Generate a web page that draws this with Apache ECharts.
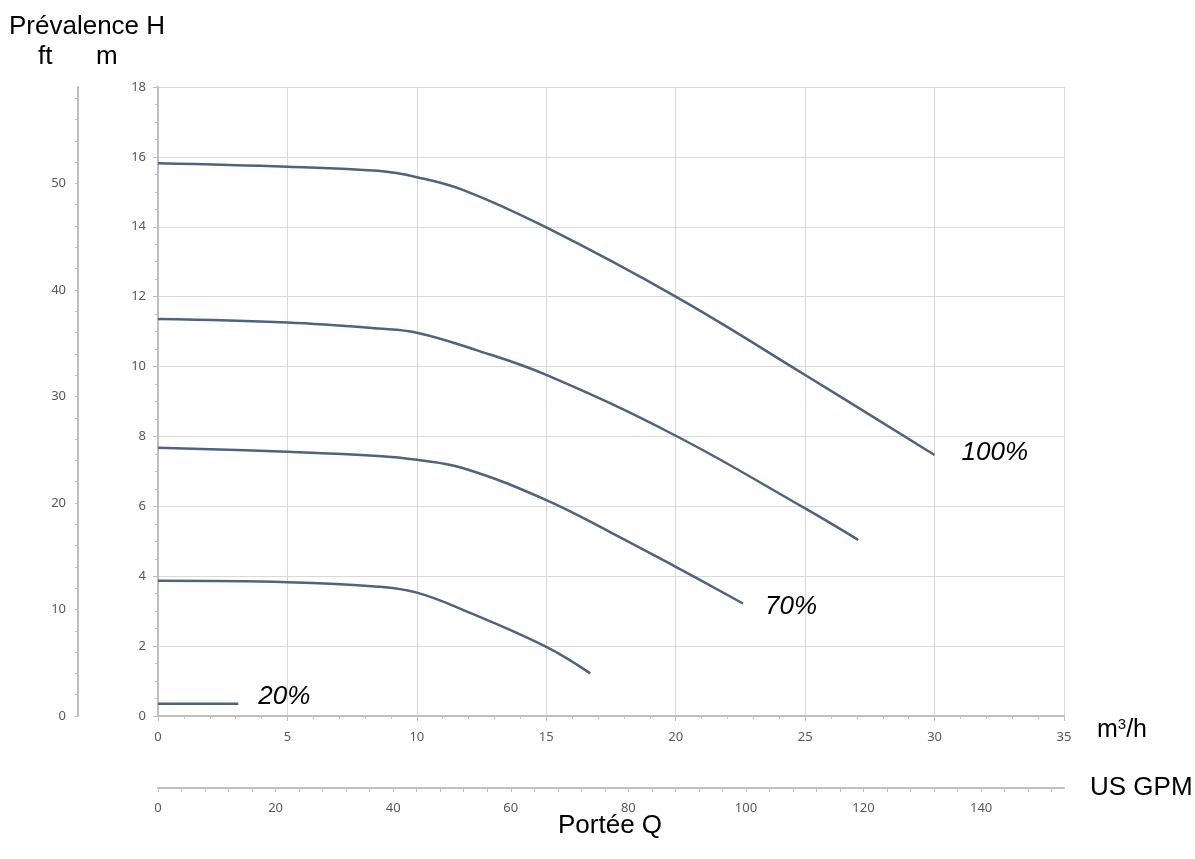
<!DOCTYPE html>
<html>
<head>
<meta charset="utf-8">
<script src="https://cdn.jsdelivr.net/npm/echarts@6/dist/echarts.min.js"></script>
<style>html,body{margin:0;padding:0;background:#fff}#c{width:1195px;height:859px}</style>
</head>
<body>
<div id="c"></div>
<script>
// Data (Q in m3/h, H in m)
const q100 = [0, 5, 8.5, 10, 11.8, 15, 20, 25, 30];
const h100 = [15.82, 15.72, 15.60, 15.42, 15.05, 13.98, 12.0, 9.76, 7.47];
const qB = [0, 5, 8.5, 10, 12.3, 15, 20, 25, 27.05];
const hB = [11.36, 11.26, 11.09, 10.97, 10.47, 9.76, 8.02, 5.94, 5.04];
const q70 = [0, 5, 8.5, 10, 11.8, 15, 17.5, 20, 22.6];
const h70 = [7.68, 7.56, 7.44, 7.33, 7.09, 6.18, 5.25, 4.27, 3.22];
const qD = [0, 5, 8.5, 10, 11.8, 15, 16.7];
const hD = [3.87, 3.83, 3.70, 3.53, 3.03, 1.98, 1.22];
const q20 = [0, 3.1];
const h20 = [0.35, 0.35];
const seriesNames = ['100%', '', '70%', '', '20%'];

const M_MAX = 18, Q_MAX = 35;
const FT_PER_M = 1 / 0.3048;
const GPM_PER_M3H = 1 / 0.2271247;

const lineColor = '#4d6380';
const axisGray = '#bfbfbf';
const labelGray = '#595959';
const tickFont = 'Noto Sans';
const bigFont = 'Liberation Sans';

function pts(q, h) { return q.map((v, i) => [v, h[i]]); }

function curve(name, q, h, labelOpts) {
  const s = {
    name: name, type: 'line', xAxisIndex: 0, yAxisIndex: 0,
    data: pts(q, h), smooth: 0.4, symbol: 'none',
    lineStyle: { color: lineColor, width: 2.5 }
  };
  if (labelOpts) {
    s.endLabel = Object.assign({
      show: true, formatter: name, color: '#000', fontStyle: 'italic',
      fontSize: 26, fontFamily: bigFont
    }, labelOpts);
  }
  return s;
}

function txt(text, x, y) {
  return { type: 'text', x: x, y: y, style: { text: text, fontSize: 26, fontFamily: bigFont, fill: '#000', verticalAlign: 'middle', align: 'left' } };
}

const chart = echarts.init(document.getElementById('c'), null, { renderer: 'canvas' });
chart.setOption({
  animation: false,
  grid: { left: 158, top: 87, width: 906, height: 629, containLabel: false },
  xAxis: [
    {
      type: 'value', min: 0, max: Q_MAX, interval: 5, position: 'bottom',
      axisLine: { show: true, lineStyle: { color: axisGray, width: 2 } },
      axisTick: { show: true, length: 5, lineStyle: { color: axisGray } },
      minorTick: { show: true, splitNumber: 5, length: 3, lineStyle: { color: axisGray } },
      axisLabel: { color: labelGray, fontSize: 13, fontFamily: tickFont, margin: 15 },
      splitLine: { show: true, lineStyle: { color: '#d9d9d9', width: 1 } }
    },
    {
      type: 'value', min: 0, max: Q_MAX * GPM_PER_M3H, interval: 4, position: 'bottom', offset: 72,
      axisLine: { show: true, onZero: false, lineStyle: { color: axisGray, width: 2 } },
      axisTick: { show: true, length: 4, lineStyle: { color: axisGray } },
      axisLabel: { color: labelGray, fontSize: 13, fontFamily: tickFont, margin: 14,
        formatter: v => (Math.abs(v % 20) < 1e-6 ? String(v) : ''), showMaxLabel: false },
      splitLine: { show: false }
    }
  ],
  yAxis: [
    {
      type: 'value', min: 0, max: M_MAX, interval: 2, position: 'left',
      axisLine: { show: true, lineStyle: { color: axisGray, width: 2 } },
      axisTick: { show: true, length: 5, lineStyle: { color: axisGray } },
      minorTick: { show: true, splitNumber: 4, length: 3, lineStyle: { color: axisGray } },
      axisLabel: { color: labelGray, fontSize: 13, fontFamily: tickFont, margin: 12 },
      splitLine: { show: true, lineStyle: { color: '#d9d9d9', width: 1 } }
    },
    {
      type: 'value', min: 0, max: M_MAX * FT_PER_M, interval: 2, position: 'left', offset: 80,
      axisLine: { show: true, onZero: false, lineStyle: { color: axisGray, width: 2 } },
      axisTick: { show: true, length: 3, lineStyle: { color: axisGray } },
      axisLabel: { color: labelGray, fontSize: 13, fontFamily: tickFont, margin: 12,
        formatter: v => (Math.abs(v % 10) < 1e-6 ? String(v) : ''), showMaxLabel: false },
      splitLine: { show: false }
    }
  ],
  series: [
    curve(seriesNames[0], q100, h100, { distance: 27, offset: [0, -2] }),
    curve('B', qB, hB, null),
    curve(seriesNames[2], q70, h70, { distance: 22, offset: [0, 3] }),
    curve('D', qD, hD, null),
    curve(seriesNames[4], q20, h20, { distance: 20, offset: [0, -7] })
  ],
  graphic: [
    txt('Prévalence H', 9, 27),
    txt('ft', 38, 57),
    txt('m', 96, 57),
    { type: 'text', x: 1097, y: 730, style: {
        text: '{a|m}{s|3}{a|/h}', verticalAlign: 'middle', align: 'left',
        rich: {
          a: { fontSize: 25, fontFamily: bigFont, fill: '#000', verticalAlign: 'bottom' },
          s: { fontSize: 15, fontFamily: bigFont, fill: '#000', verticalAlign: 'top', padding: [0, 0, 10, 0] }
        } } },
    txt('US GPM', 1090, 788),
    txt('Portée Q', 558, 826)
  ]
});
</script>
</body>
</html>
